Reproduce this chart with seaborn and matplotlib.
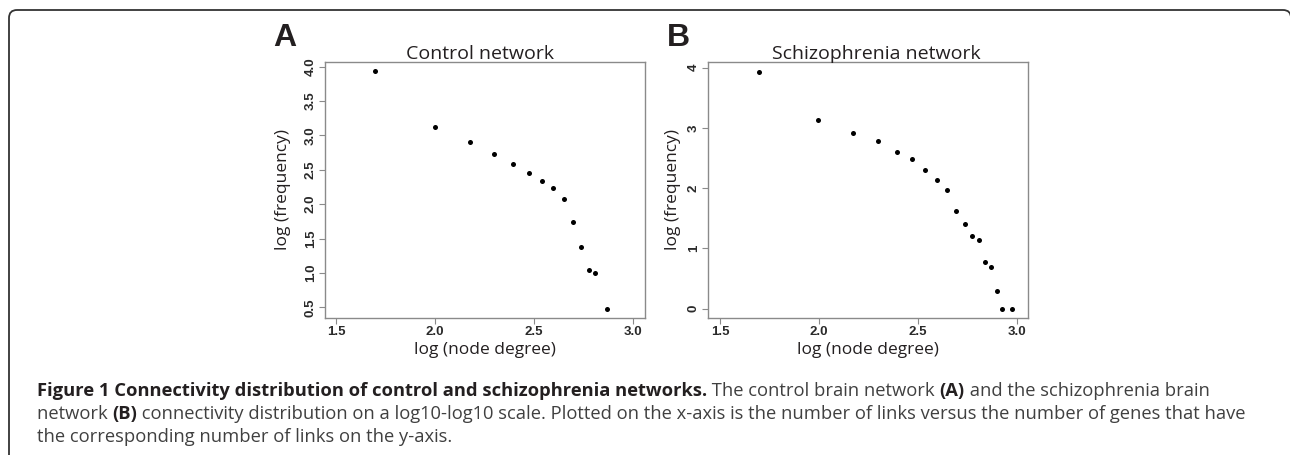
import matplotlib
matplotlib.use('Agg')
import matplotlib.pyplot as plt
import seaborn as sns
from matplotlib.patches import FancyBboxPatch
from matplotlib.transforms import IdentityTransform

# Data (log10 node degree vs log10 frequency)
control_x = [1.697, 2.000, 2.174, 2.299, 2.395, 2.474, 2.539, 2.596, 2.650, 2.696, 2.736, 2.775, 2.810, 2.870]
control_y = [3.930, 3.123, 2.900, 2.735, 2.590, 2.455, 2.337, 2.240, 2.080, 1.736, 1.378, 1.038, 1.000, 0.476]
scz_x = [1.694, 1.996, 2.172, 2.296, 2.392, 2.471, 2.537, 2.596, 2.648, 2.693, 2.735, 2.773, 2.808, 2.840,
         2.869, 2.899, 2.924, 2.973]
scz_y = [3.934, 3.128, 2.918, 2.780, 2.604, 2.477, 2.300, 2.135, 1.970, 1.628, 1.410, 1.200, 1.145, 0.777,
         0.700, 0.298, 0.000, 0.000]

x_ticks = [1.5, 2.0, 2.5, 3.0]
x_ticklabels = ['1.5', '2.0', '2.5', '3.0']
control_yticks = [0.5, 1.0, 1.5, 2.0, 2.5, 3.0, 3.5, 4.0]
control_yticklabels = ['0.5', '1.0', '1.5', '2.0', '2.5', '3.0', '3.5', '4.0']
scz_yticks = [0, 1, 2, 3, 4]
scz_yticklabels = ['0', '1', '2', '3', '4']

caption_lines = [
  [('Figure 1 Connectivity distribution of control and schizophrenia networks.', True),
   (' The control brain network ', False), ('(A)', True), (' and the schizophrenia brain', False)],
  [('network ', False), ('(B)', True),
   (' connectivity distribution on a log10-log10 scale. Plotted on the x-axis is the number of links versus the number of genes that have', False)],
  [('the corresponding number of links on the y-axis.', False)],
]

W, H, DPI = 1290, 455, 100
INK = '#231f20'
LABEL_FONT = ['Open Sans', 'DejaVu Sans']

sns.set_theme(style='white')
plt.rcParams['font.family'] = ['Liberation Sans', 'DejaVu Sans']

fig = plt.figure(figsize=(W / DPI, H / DPI), dpi=DPI)


# One scatter panel, placed in pixel units of the reference
def make_panel(left, xs, ys, xlim, ylim, yticks, yticklabels, title, title_x, letter, letter_x, ylabel_x):
  ax = fig.add_axes([left / W, (H - 318) / H, 320 / W, 256 / H])
  sns.scatterplot(x=xs, y=ys, ax=ax, color='black', s=13, linewidth=0, marker='o')
  ax.set_xlim(*xlim)
  ax.set_ylim(*ylim)
  ax.set_xticks(x_ticks)
  ax.set_xticklabels(x_ticklabels, fontweight='bold')
  ax.set_yticks(yticks)
  ax.set_yticklabels(yticklabels, rotation=90, va='center', fontweight='bold')
  ax.tick_params(bottom=True, left=True, direction='out', length=4, width=0.8, color='#8a8a8a',
                 labelsize=9.5, labelcolor='#2a2a2a', pad=2)
  for spine in ax.spines.values():
    spine.set_color('#8a8a8a')
    spine.set_linewidth(1.0)
  ax.set_xlabel('log (node degree)', fontfamily=LABEL_FONT, fontsize=12.5, color=INK, va='center')
  ax.xaxis.set_label_coords(0.5, -(350 - 318) / 256)
  ax.set_ylabel('log (frequency)', fontfamily=LABEL_FONT, fontsize=12.5, color=INK, va='center')
  ax.yaxis.set_label_coords((ylabel_x - left) / 320, 0.5)
  ax.set_title(title, fontfamily=LABEL_FONT, fontsize=14, color=INK, va='center')
  ax.title.set_position(((title_x - left) / 320, 1 + (62 - 44) / 256))
  fig.text(letter_x / W, 1 - 38 / H, letter, fontsize=23, fontweight='bold', color=INK,
           ha='left', va='center')
  return ax


make_panel(325, control_x, control_y, (1.444, 3.06), (0.344, 4.068), control_yticks, control_yticklabels,
           'Control network', 480, 'A', 273, 283)
make_panel(708, scz_x, scz_y, (1.438, 3.056), (-0.154, 4.094), scz_yticks, scz_yticklabels,
           'Schizophrenia network', 876, 'B', 667, 673)

# Caption, mixing bold and regular runs on each line
renderer = fig.canvas.get_renderer()
for i, parts in enumerate(caption_lines):
  x = 37
  y = 396 + 23 * i
  for text, bold in parts:
    t = fig.text(x / W, 1 - y / H, text, fontsize=13.2, fontfamily=LABEL_FONT,
                 fontweight='bold' if bold else 'normal', color=INK if bold else '#404040',
                 ha='left', va='baseline')
    x = t.get_window_extent(renderer).x1

# Rounded outer frame running off the bottom and right edges
frame = FancyBboxPatch((9, -20), 1282, H - 10 + 20, boxstyle='round,pad=0,rounding_size=8',
                       transform=IdentityTransform(), fill=False, edgecolor='#333333', linewidth=1.3,
                       clip_on=False)
fig.add_artist(frame)

fig.savefig('out.png', dpi=DPI)
